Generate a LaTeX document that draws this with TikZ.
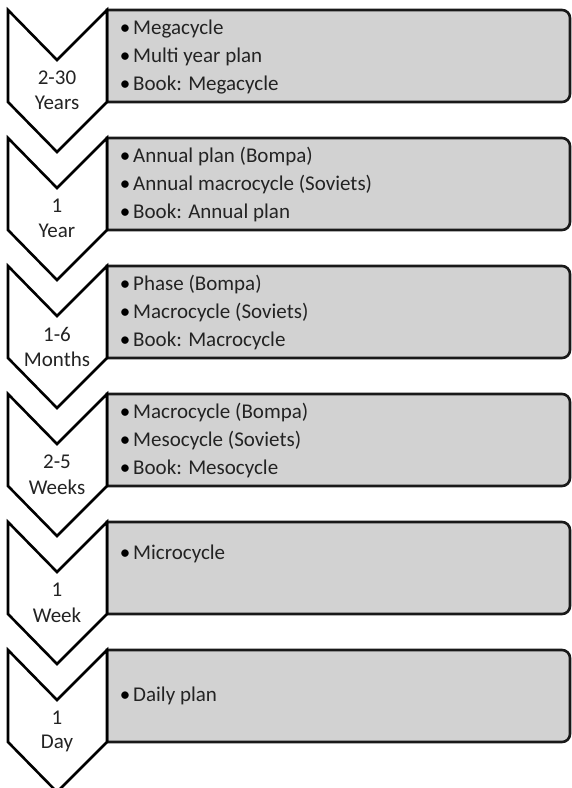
\documentclass[tikz,border=0pt]{standalone}
\usepackage{fontspec}
\setmainfont{Carlito}
\definecolor{panelgray}{RGB}{210,210,210}
\definecolor{inkgray}{RGB}{35,35,35}
\begin{document}
\begin{tikzpicture}[x=1pt,y=-1pt,
  chev/.style={draw=black,line width=2.6pt,fill=white,line join=miter},
  panel/.style={draw=black!90,line width=2.6pt,fill=panelgray},
  lab/.style={inner sep=0pt,text=inkgray,font=\fontsize{21}{24}\selectfont},
  itemtxt/.style={inner sep=0pt,anchor=base west,text=inkgray,font=\fontsize{21}{24}\selectfont},
  bul/.style={inner sep=0pt,anchor=base,text=black,font=\fontsize{21}{24}\selectfont}]
\useasboundingbox (0,0) rectangle (571,788);
% stage drawing macro: #1 name, #2 top, #3 number, #4 unit
\newcommand\stagebox[4]{%
  \draw[panel] (107,#2) -- (562,#2) arc[start angle=-90,end angle=0,radius=8]
    -- (570,#2+84) arc[start angle=0,end angle=90,radius=8] -- (107,#2+92) -- cycle;
  \draw[chev] (8,#2) -- (57,#2+50) -- (107,#2) -- (107,#2+92) -- (57,#2+142) -- (8,#2+92) -- cycle;
  \node[lab] (#1num) at (57,#2+68) {#3};
  \node[lab] (#1unit) at (57,#2+93) {#4};
}
\newcommand\bitem[3]{% #1 name, #2 y-centre, #3 text
  \node[bul] (#1b) at (125,#2+6) {\textbullet};
  \node[itemtxt] (#1) at (133,#2+6.5) {#3};
}
\stagebox{s1}{10}{2-30}{Years}
\bitem{s1a}{28}{Megacycle}
\bitem{s1b}{56}{Multi year plan}
\bitem{s1c}{84}{Book: Megacycle}

\stagebox{s2}{138}{1}{Year}
\bitem{s2a}{156}{Annual plan (Bompa)}
\bitem{s2b}{184}{Annual macrocycle (Soviets)}
\bitem{s2c}{212}{Book: Annual plan}

\stagebox{s3}{266}{1-6}{Months}
\bitem{s3a}{284}{Phase (Bompa)}
\bitem{s3b}{312}{Macrocycle (Soviets)}
\bitem{s3c}{340}{Book: Macrocycle}

\stagebox{s4}{394}{2-5}{Weeks}
\bitem{s4a}{412}{Macrocycle (Bompa)}
\bitem{s4b}{440}{Mesocycle (Soviets)}
\bitem{s4c}{468}{Book: Mesocycle}

\stagebox{s5}{522}{1}{Week}
\bitem{s5a}{553}{Microcycle}

\stagebox{s6}{650}{1}{Day}
\bitem{s6a}{695}{Daily plan}
\end{tikzpicture}
\end{document}
